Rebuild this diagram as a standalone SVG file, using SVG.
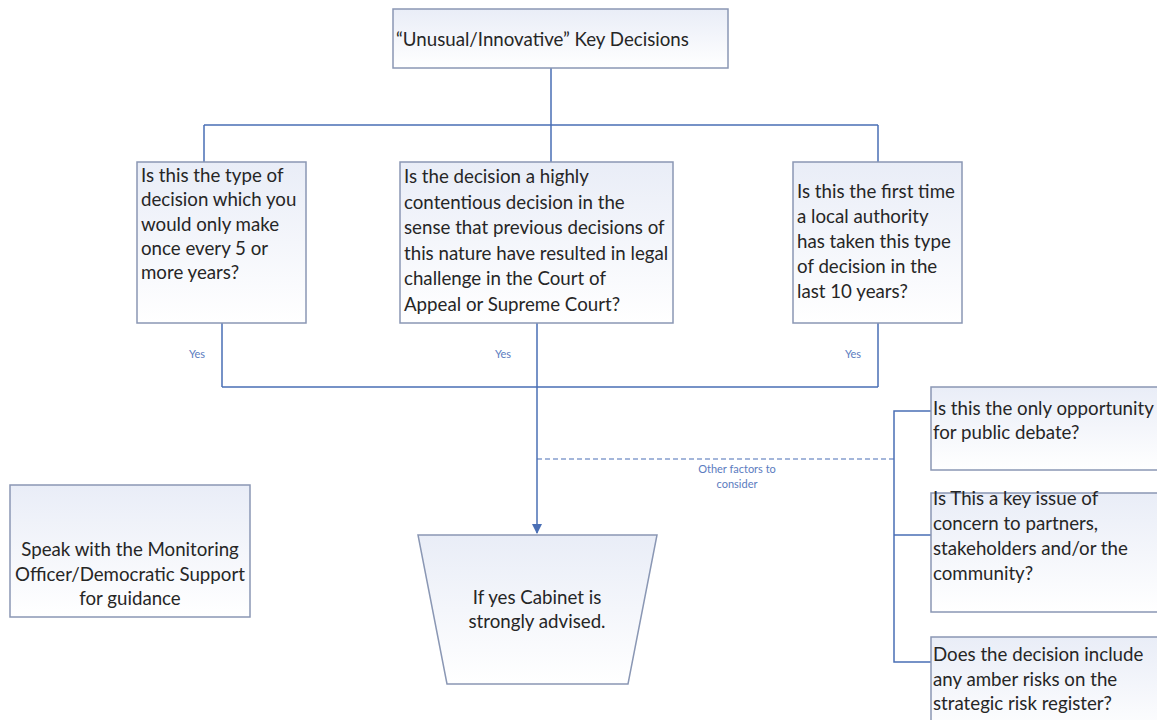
<svg xmlns="http://www.w3.org/2000/svg" width="1157" height="720" viewBox="0 0 1157 720">
<defs>
<linearGradient id="g" x1="0" y1="0" x2="0" y2="1">
<stop offset="0" stop-color="#e9edf7"/>
<stop offset="1" stop-color="#ffffff"/>
</linearGradient>
<marker id="arr" markerWidth="10" markerHeight="10" refX="9" refY="5" orient="auto" markerUnits="userSpaceOnUse">
<path d="M0,0 L10,5 L0,10 z" fill="#4a6fb5"/>
</marker>
<style>
.box{fill:url(#g);stroke:#8a97b4;stroke-width:1.5}
.t{font-family:Lato,"Liberation Sans",sans-serif;font-size:18.7px;fill:#262626}
.c{text-anchor:middle}
.ln{fill:none;stroke:#4a6fb5;stroke-width:1.5}
.lb{font-family:Lato,"Liberation Sans",sans-serif;font-size:11px;fill:#5b7cc0}
</style>
</defs>
<rect width="1157" height="720" fill="#ffffff"/>
<g id="connectors">
<path class="ln" d="M551,68 V125 M204,125 H878 M204,125 V162 M551,125 V162 M878,125 V162"/>
<path class="ln" d="M222,323 V387 M878,323 V387 M222,387 H878 M537,323 V387"/>
<path class="ln" d="M537,387 V533" marker-end="url(#arr)"/>
<path class="ln" d="M537,459 H894" stroke-dasharray="5,3" style="stroke-width:1.2"/>
<path class="ln" d="M931,411 H894 V662 H931 M894,535 H931"/>
<text class="lb c" x="197" y="358">Yes</text>
<text class="lb c" x="503" y="358">Yes</text>
<text class="lb c" x="853" y="358">Yes</text>
<text class="lb c" x="737" y="473">Other factors to</text>
<text class="lb c" x="737" y="488">consider</text>
</g>
<g id="top">
<rect class="box" x="393" y="9" width="335" height="59"/>
<text class="t" x="396" y="46">“Unusual/Innovative” Key Decisions</text>
</g>
<g id="q1">
<rect class="box" x="137" y="162" width="169" height="161"/>
<text class="t"><tspan x="141" y="182">Is this the type of</tspan><tspan x="141" y="206">decision which you</tspan><tspan x="141" y="231">would only make</tspan><tspan x="141" y="255">once every 5 or</tspan><tspan x="141" y="279">more years?</tspan></text>
</g>
<g id="q2">
<rect class="box" x="400" y="162" width="273" height="161"/>
<text class="t"><tspan x="404" y="183">Is the decision a highly</tspan><tspan x="404" y="209">contentious decision in the</tspan><tspan x="404" y="234">sense that previous decisions of</tspan><tspan x="404" y="260">this nature have resulted in legal</tspan><tspan x="404" y="285">challenge in the Court of</tspan><tspan x="404" y="311">Appeal or Supreme Court?</tspan></text>
</g>
<g id="q3">
<rect class="box" x="793" y="162" width="169" height="161"/>
<text class="t"><tspan x="797" y="198">Is this the first time</tspan><tspan x="797" y="223">a local authority</tspan><tspan x="797" y="248">has taken this type</tspan><tspan x="797" y="273">of decision in the</tspan><tspan x="797" y="298">last 10 years?</tspan></text>
</g>
<g id="f1">
<rect class="box" x="931" y="387" width="240" height="83"/>
<text class="t"><tspan x="933" y="415">Is this the only opportunity</tspan><tspan x="933" y="439">for public debate?</tspan></text>
</g>
<g id="f2">
<rect class="box" x="931" y="493" width="240" height="119"/>
<text class="t"><tspan x="933" y="505">Is This a key issue of</tspan><tspan x="933" y="530">concern to partners,</tspan><tspan x="933" y="555">stakeholders and/or the</tspan><tspan x="933" y="580">community?</tspan></text>
</g>
<g id="f3">
<rect class="box" x="931" y="637" width="240" height="100"/>
<text class="t"><tspan x="933" y="661">Does the decision include</tspan><tspan x="933" y="686">any amber risks on the</tspan><tspan x="933" y="710">strategic risk register?</tspan></text>
</g>
<g id="advice">
<rect class="box" x="10" y="485" width="240" height="132"/>
<text class="t c"><tspan x="130" y="556">Speak with the Monitoring</tspan><tspan x="130" y="581">Officer/Democratic Support</tspan><tspan x="130" y="605">for guidance</tspan></text>
</g>
<g id="result">
<path class="box" d="M418,535 H657 L628,684 H447 Z"/>
<text class="t c"><tspan x="537" y="604">If yes Cabinet is</tspan><tspan x="537" y="628">strongly advised.</tspan></text>
</g>
</svg>
